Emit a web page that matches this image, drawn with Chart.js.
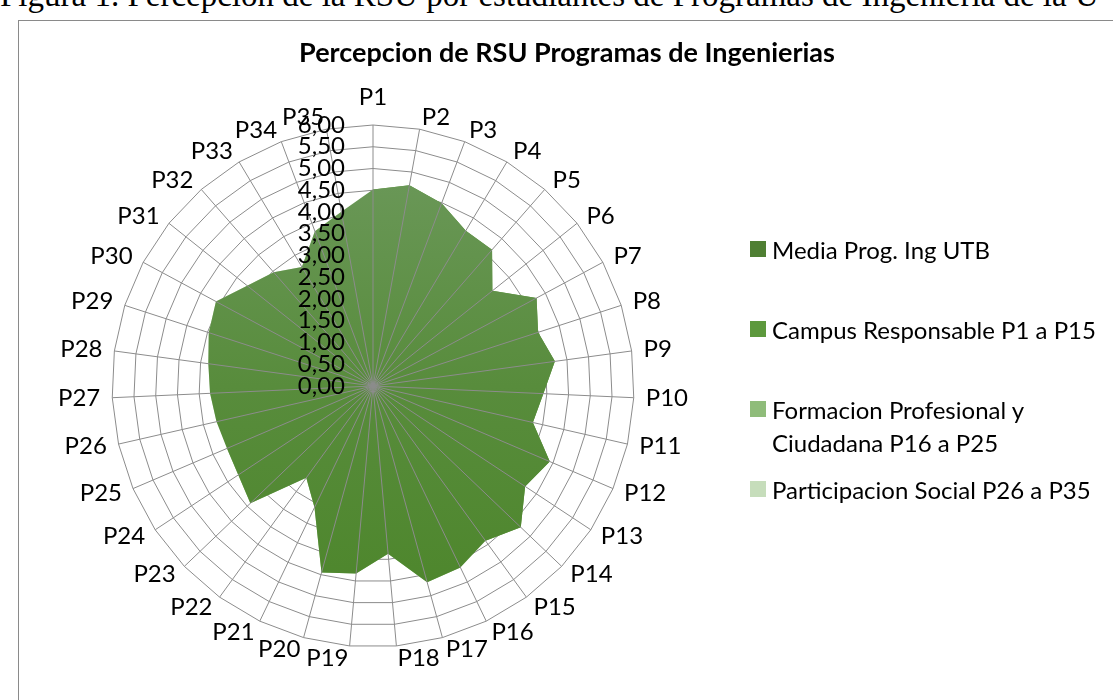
<!DOCTYPE html>
<html lang="es">
<head>
<meta charset="utf-8">
<script src="https://cdn.jsdelivr.net/npm/chart.js@4.4.1/dist/chart.umd.min.js"></script>
<style>
    html, body { margin: 0; padding: 0; background: #fff; width: 1113px; height: 700px; overflow: hidden; font-family: Lato, sans-serif; color: #000; }
    #pie-figura { position: absolute; left: 0; top: -21px; font-family: "Liberation Serif", serif; font-size: 33px; line-height: 33px; white-space: nowrap; }
    #marco { position: absolute; left: 18px; top: 20px; width: 1200px; height: 800px; border: 1px solid #8a8a8a; }
    #grafico-rsu { position: absolute; left: 0; top: 0; }
    #titulo { position: absolute; left: 18px; width: 1098px; top: 36px; text-align: center; font-weight: bold; font-size: 27px; line-height: 32px; }
    .item-ley { position: absolute; left: 750px; width: 360px; font-size: 24px; line-height: 33px; }
    .item-ley .cuadro { position: absolute; left: 0; top: 8px; width: 16px; height: 16px; }
    .item-ley .txt { position: absolute; left: 22px; width: 340px; }
</style>
</head>
<body>
<div id="pie-figura">Figura 1. Percepcion de la RSU por estudiantes de Programas de Ingenieria de la U</div>
<div id="marco"></div>
<canvas id="grafico-rsu" width="1113" height="700"></canvas>
<div id="titulo">Percepcion de RSU Programas de Ingenierias</div>
<div id="leyenda"></div>

<script>
const etiquetas = ['P1','P2','P3','P4','P5','P6','P7','P8','P9','P10','P11','P12','P13','P14','P15','P16','P17','P18',
                   'P19','P20','P21','P22','P23','P24','P25','P26','P27','P28','P29','P30','P31','P32','P33','P34','P35'];

const mediaIng = [4.52, 4.69, 4.49, 4.16, 4.16, 3.51, 4.27, 3.99, 4.22, 3.92, 3.77, 4.42, 4.19, 4.70, 4.40,
                  4.63, 4.68, 3.87, 4.33, 4.45, 3.10, 2.61, 3.90, 3.71, 3.65,
                  3.69, 3.75, 3.82, 3.97, 4.10, 3.70, 3.47, 3.19, 3.80, 4.07];
const campusResp = [4.52, 4.69, 4.49, 4.16, 4.16, 3.51, 4.27, 3.99, 4.22, 3.92, 3.77, 4.42, 4.19, 4.70, 4.40,
                    0, 0, 0, 0, 0, 0, 0, 0, 0, 0,
                    0, 0, 0, 0, 0, 0, 0, 0, 0, 0];
const formacion = [0, 0, 0, 0, 0, 0, 0, 0, 0, 0, 0, 0, 0, 0, 0,
                   4.63, 4.68, 3.87, 4.33, 4.45, 3.10, 2.61, 3.90, 3.71, 3.65,
                   0, 0, 0, 0, 0, 0, 0, 0, 0, 0];
const participacion = [0, 0, 0, 0, 0, 0, 0, 0, 0, 0, 0, 0, 0, 0, 0,
                       0, 0, 0, 0, 0, 0, 0, 0, 0, 0,
                       3.69, 3.75, 3.82, 3.97, 4.10, 3.70, 3.47, 3.19, 3.80, 4.07];

const nombresSeries = ['Media Prog. Ing UTB', 'Campus Responsable P1 a P15',
                       'Formacion Profesional y Ciudadana P16 a P25', 'Participacion Social P26 a P35'];
const coloresSeries = ['#4f7f33', '#5d993d', '#8fbc7a', '#c6ddbb'];

const escalaMin = 0, escalaMax = 6, escalaPaso = 0.5;

// layout (px): area del radar = centro (373,386) radio 261
const padRadar = { left: 112, top: 125, right: 479, bottom: 53 };
const sepEtiqueta = 12;
const topLeyenda = [233, 313, 393, 473];

let _grafico = null;

function rellenoMedia(ctx) {
    const ch = ctx.chart;
    const s = ch.scales.r;
    if (!s || !s.drawingArea) return '#5a8f3f';
    const g = ch.ctx.createLinearGradient(0, s.yCenter - s.drawingArea, 0, s.yCenter + s.drawingArea);
    g.addColorStop(0, '#6e9a5e');
    g.addColorStop(0.5, '#588c3c');
    g.addColorStop(1, '#4b8528');
    return g;
}

// lineas radiales por encima del relleno, etiquetas de ticks y de puntos al estilo Excel
const capaSuperior = {
    id: 'capaSuperior',
    afterDatasetsDraw(chart) {
        const s = chart.scales.r;
        const ctx = chart.ctx;
        ctx.save();
        ctx.strokeStyle = '#8c8c8c';
        ctx.lineWidth = 1;
        for (let i = 0; i < etiquetas.length; i++) {
            const p = s.getPointPosition(i, s.drawingArea);
            ctx.beginPath();
            ctx.moveTo(s.xCenter, s.yCenter);
            ctx.lineTo(p.x, p.y);
            ctx.stroke();
        }

        ctx.font = '24px Lato';
        ctx.fillStyle = '#000';
        ctx.textAlign = 'right';
        ctx.textBaseline = 'middle';
        s.ticks.forEach(t => {
            const d = s.getDistanceFromCenterForValue(t.value);
            ctx.fillText(t.value.toFixed(2).replace('.', ','), s.xCenter - 28, s.yCenter - d);
        });

        etiquetas.forEach((lab, i) => {
            const p = s.getPointPosition(i, s.drawingArea + sepEtiqueta);
            const dx = p.x - s.xCenter;
            if (Math.abs(dx) < 1) {
                ctx.textAlign = 'center';
                ctx.textBaseline = 'alphabetic';
                ctx.fillText(lab, p.x, p.y - 8);
            } else {
                ctx.textAlign = dx > 0 ? 'left' : 'right';
                ctx.textBaseline = 'middle';
                ctx.fillText(lab, p.x, p.y);
            }
        });
        ctx.restore();
    }
};

function crearGrafico() {
    const canvas = document.getElementById('grafico-rsu');
    if (_grafico) { _grafico.destroy(); _grafico = null; }

    const datos = [mediaIng, campusResp, formacion, participacion];
    _grafico = new Chart(canvas, {
        type: 'radar',
        data: {
            labels: etiquetas,
            datasets: datos.map((d, i) => ({
                label: nombresSeries[i],
                data: d,
                backgroundColor: i === 0 ? rellenoMedia : coloresSeries[i],
                borderWidth: 0,
                pointRadius: 0,
                fill: true,
                tension: 0,
            }))
        },
        options: {
            responsive: false,
            animation: false,
            devicePixelRatio: 1,
            layout: { padding: padRadar },
            plugins: {
                legend: { display: false },
                tooltip: { enabled: false },
            },
            scales: {
                r: {
                    min: escalaMin,
                    max: escalaMax,
                    ticks: { stepSize: escalaPaso, display: false },
                    grid: { color: '#8c8c8c', lineWidth: 1 },
                    angleLines: { display: false },
                    pointLabels: { display: false },
                }
            }
        },
        plugins: [capaSuperior]
    });
}

function armarLeyenda() {
    const cont = document.getElementById('leyenda');
    cont.innerHTML = nombresSeries.map((n, i) => `
        <div class="item-ley" style="top:${topLeyenda[i]}px">
            <div class="cuadro" style="background:${coloresSeries[i]}"></div>
            <div class="txt">${n}</div>
        </div>`).join('');
}

document.addEventListener('DOMContentLoaded', () => {
    crearGrafico();
    armarLeyenda();
});
</script>
</body>
</html>
